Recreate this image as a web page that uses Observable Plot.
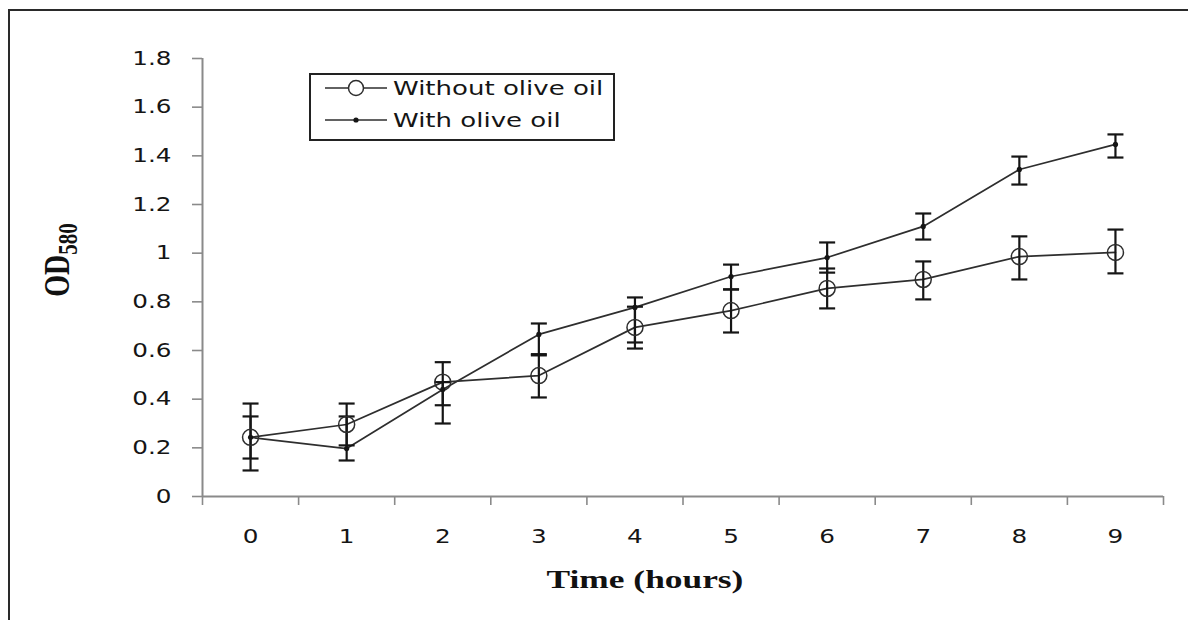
<!DOCTYPE html>
<html>
<head>
<meta charset="utf-8">
<script src="https://cdn.jsdelivr.net/npm/d3@7"></script>
<script src="https://cdn.jsdelivr.net/npm/@observablehq/plot@0.6"></script>
<style>
  html, body { margin: 0; padding: 0; background: #fff; }
  #wrap { position: relative; width: 1188px; height: 620px; overflow: hidden; background: #fff; }
  #chart { position: absolute; left: 0; top: 0; }
  #frame { position: absolute; left: 8px; top: 9px; width: 1300px; height: 800px;
           border-top: 2px solid #2a2a2a; border-left: 2px solid #2a2a2a; pointer-events: none; }
  #ylabel { position: absolute; left: 57px; top: 260px; white-space: nowrap;
            font-family: "Liberation Serif", "Times New Roman", serif; font-weight: bold;
            font-size: 28px; color: #111;
            transform: translate(-50%, -50%) rotate(-90deg) scale(1, 1.3); }
  #ylabel sub { font-size: 21px; vertical-align: -0.3em; line-height: 0; }
  #xlabel { position: absolute; left: 645px; top: 580px; white-space: nowrap;
            font-family: "Liberation Serif", "Times New Roman", serif; font-weight: bold;
            font-size: 26px; color: #111;
            transform: translate(-50%, -50%) scale(1.36, 1); }
  #legend { position: absolute; left: 309px; top: 73px; }
</style>
</head>
<body>
<div id="wrap">
  <div id="chart"></div>
  <div id="frame"></div>
  <div id="ylabel">OD<sub>580</sub></div>
  <div id="xlabel">Time (hours)</div>
  <div id="legend"></div>
</div>
<script>
// ---- data ----
const hours = [0, 1, 2, 3, 4, 5, 6, 7, 8, 9];
const seriesNames = ["Without olive oil", "With olive oil"];

const withoutOil   = [0.243, 0.296, 0.470, 0.497, 0.695, 0.764, 0.855, 0.892, 0.986, 1.003];
const withoutLow   = [0.107, 0.210, 0.375, 0.407, 0.608, 0.674, 0.773, 0.810, 0.892, 0.917];
const withoutHigh  = [0.382, 0.382, 0.552, 0.585, 0.780, 0.851, 0.937, 0.966, 1.069, 1.097];

const withOil      = [0.243, 0.197, 0.440, 0.666, 0.777, 0.904, 0.982, 1.110, 1.344, 1.447];
const withLow      = [0.156, 0.148, 0.300, 0.580, 0.633, 0.851, 0.920, 1.056, 1.282, 1.393];
const withHigh     = [0.329, 0.329, 0.470, 0.711, 0.818, 0.953, 1.044, 1.163, 1.397, 1.488];

const yTicks = [0, 0.2, 0.4, 0.6, 0.8, 1, 1.2, 1.4, 1.6, 1.8];
const xTickLabels = ["0", "1", "2", "3", "4", "5", "6", "7", "8", "9"];
const xEdges = [-0.5, 0.5, 1.5, 2.5, 3.5, 4.5, 5.5, 6.5, 7.5, 8.5, 9.5];

// ---- build tables ----
const table = (vals, lo, hi) => hours.map((t, i) => ({ t, v: vals[i], lo: lo[i], hi: hi[i] }));
const A = table(withoutOil, withoutLow, withoutHigh);
const B = table(withOil, withLow, withHigh);

// horizontal cap symbol for error bars
const capSymbol = {
  draw(ctx, size) {
    const r = Math.sqrt(size / Math.PI);
    ctx.moveTo(-r, 0);
    ctx.lineTo(r, 0);
  }
};

const axisGray = "#8a8a8a";
const ink = "#151515";
const lineInk = "#2e2e2e";

const errorMarks = (D) => [
  Plot.ruleX(D, { x: "t", y1: "lo", y2: "hi", stroke: ink, strokeWidth: 2.2 }),
  Plot.dot(D, { x: "t", y: "lo", symbol: capSymbol, r: 8, stroke: ink, strokeWidth: 2.2, fill: "none" }),
  Plot.dot(D, { x: "t", y: "hi", symbol: capSymbol, r: 8, stroke: ink, strokeWidth: 2.2, fill: "none" })
];

const chart = Plot.plot({
  width: 1188,
  height: 620,
  marginTop: 58,
  marginBottom: 124,
  marginLeft: 202,
  marginRight: 25,
  style: { fontFamily: "DejaVu Sans", fontSize: "19px", color: "#151515", background: "transparent" },
  x: { type: "linear", domain: [-0.5, 9.5], label: null },
  y: { domain: [0, 1.8], label: null },
  marks: [
    // axes lines
    Plot.ruleY([0], { stroke: axisGray, strokeWidth: 2 }),
    Plot.ruleX([-0.5], { stroke: axisGray, strokeWidth: 2 }),
    // y ticks + labels
    Plot.axisY({ ticks: yTicks, tickSize: 10, tickFormat: () => "", stroke: axisGray, strokeWidth: 1.6, label: null }),
    Plot.axisY({ ticks: yTicks, tickSize: 0, tickPadding: 31, tickFormat: d => String(d), label: null }),
    // x ticks at category boundaries + labels at centres
    Plot.axisX({ ticks: xEdges, tickSize: 9, tickFormat: () => "", stroke: axisGray, strokeWidth: 1.6, label: null }),
    Plot.axisX({ ticks: hours, tickSize: 0, tickPadding: 33, tickFormat: (d, i) => xTickLabels[i], label: null }),
    // series lines
    Plot.line(A, { x: "t", y: "v", stroke: lineInk, strokeWidth: 1.7 }),
    Plot.line(B, { x: "t", y: "v", stroke: lineInk, strokeWidth: 1.7 }),
    // error bars
    ...errorMarks(A),
    ...errorMarks(B),
    // markers
    Plot.dot(A, { x: "t", y: "v", r: 8, stroke: lineInk, strokeWidth: 1.5, fill: "none" }),
    Plot.dot(B, { x: "t", y: "v", r: 2.6, fill: ink, stroke: "none" })
  ]
});

document.getElementById("chart").appendChild(chart);

// widen text horizontally like the reference (stretched rendering), keeping each anchor fixed
const svgNS = "http://www.w3.org/2000/svg";
const sRect = chart.getBoundingClientRect();
Array.from(chart.querySelectorAll("text")).forEach(t => {
  if (!t.textContent) return;
  const r = t.getBoundingClientRect();
  const anchor = getComputedStyle(t).textAnchor;
  let ax = anchor === "end" ? r.right : anchor === "middle" ? (r.left + r.right) / 2 : r.left;
  ax -= sRect.left;
  const parent = t.parentNode;
  const m = parent.getCTM ? parent.getCTM() : null;
  const lx = m ? (ax - m.e) / (m.a || 1) : ax;
  const g = document.createElementNS(svgNS, "g");
  g.setAttribute("transform", `translate(${lx},0) scale(1.3,1) translate(${-lx},0)`);
  parent.insertBefore(g, t);
  g.appendChild(t);
});

// ---- legend ----
const lg = d3.select("#legend").append("svg").attr("width", 307).attr("height", 69);
lg.append("rect").attr("x", 1).attr("y", 1).attr("width", 304).attr("height", 66)
  .attr("fill", "#fff").attr("stroke", "#222").attr("stroke-width", 2);
const rowsY = [15, 47];
seriesNames.forEach((name, i) => {
  const cy = rowsY[i];
  lg.append("line").attr("x1", 16).attr("x2", 78).attr("y1", cy).attr("y2", cy)
    .attr("stroke", lineInk).attr("stroke-width", 1.7);
  if (i === 0) {
    lg.append("circle").attr("cx", 47).attr("cy", cy).attr("r", 7.5)
      .attr("fill", "#fff").attr("stroke", lineInk).attr("stroke-width", 1.5);
  } else {
    lg.append("circle").attr("cx", 47).attr("cy", cy).attr("r", 2.6).attr("fill", ink);
  }
  lg.append("text").attr("transform", `translate(84,${cy + 7}) scale(1.37,1)`)
    .attr("font-family", "DejaVu Sans").attr("font-size", 19).attr("fill", "#151515")
    .text(name);
});
</script>
</body>
</html>
